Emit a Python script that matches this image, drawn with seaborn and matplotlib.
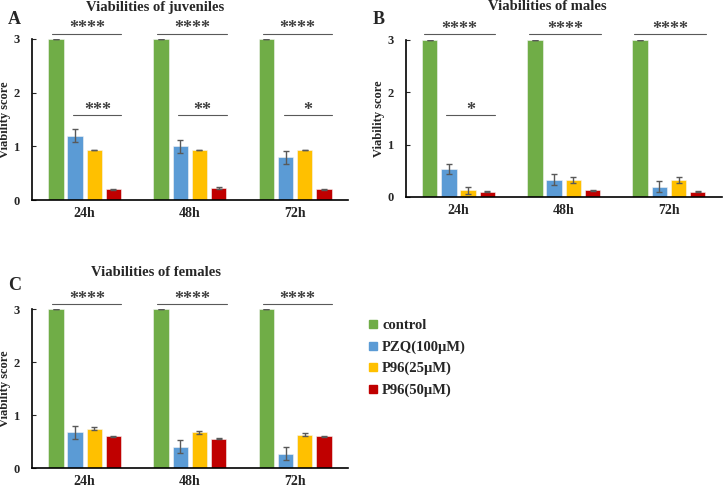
import matplotlib
matplotlib.use("Agg")
import matplotlib.pyplot as plt
from matplotlib.lines import Line2D
import pandas as pd
import seaborn as sns

# data
times = ['24h', '48h', '72h']
groups = ['control', 'PZQ(100μM)', 'P96(25μM)', 'P96(50μM)']
colors = ['#70AD47', '#5B9BD5', '#FFC000', '#C00000']

juv_mean = {'control': [3, 3, 3], 'PZQ(100μM)': [1.2, 1.0, 0.8],
            'P96(25μM)': [0.93, 0.93, 0.93], 'P96(50μM)': [0.2, 0.23, 0.2]}
juv_err = {'control': [0.005, 0.005, 0.005], 'PZQ(100μM)': [0.12, 0.12, 0.12],
           'P96(25μM)': [0.005, 0.005, 0.005], 'P96(50μM)': [0.01, 0.015, 0.01]}

male_mean = {'control': [3, 3, 3], 'PZQ(100μM)': [0.53, 0.33, 0.2],
             'P96(25μM)': [0.13, 0.33, 0.33], 'P96(50μM)': [0.1, 0.13, 0.1]}
male_err = {'control': [0.005, 0.005, 0.005], 'PZQ(100μM)': [0.1, 0.1, 0.1],
            'P96(25μM)': [0.07, 0.06, 0.06], 'P96(50μM)': [0.01, 0.01, 0.01]}

fem_mean = {'control': [3, 3, 3], 'PZQ(100μM)': [0.67, 0.4, 0.27],
            'P96(25μM)': [0.74, 0.67, 0.63], 'P96(50μM)': [0.6, 0.55, 0.6]}
fem_err = {'control': [0.005, 0.005, 0.005], 'PZQ(100μM)': [0.12, 0.12, 0.12],
           'P96(25μM)': [0.03, 0.03, 0.03], 'P96(50μM)': [0.01, 0.01, 0.01]}

# significance marks: (time index, start offset, y, label)
juv_sig = [(0, -0.31, 3.1, '****'), (1, -0.31, 3.1, '****'), (2, -0.31, 3.1, '****'),
           (0, -0.11, 1.58, '***'), (1, -0.11, 1.58, '**'), (2, -0.11, 1.58, '*')]
male_sig = [(0, -0.33, 3.11, '****'), (1, -0.33, 3.11, '****'), (2, -0.33, 3.11, '****'),
            (0, -0.115, 1.56, '*')]
fem_sig = [(0, -0.31, 3.09, '****'), (1, -0.31, 3.09, '****'), (2, -0.31, 3.09, '****')]

sns.set_style("white")
plt.rcParams['font.family'] = ['Liberation Serif', 'DejaVu Serif']
plt.rcParams['font.weight'] = 'bold'

fig = plt.figure(figsize=(7.23, 4.87), dpi=100)
axA = fig.add_axes([0.0443, 0.589, 0.4367, 0.331])
axB = fig.add_axes([0.5615, 0.5955, 0.4365, 0.3225])
axC = fig.add_axes([0.0443, 0.039, 0.4367, 0.3265])


def panel(ax, mean, err, sig):
    rows = []
    for g in groups:
        for i, t in enumerate(times):
            rows.append({'time': t, 'group': g, 'value': mean[g][i], 'err': err[g][i]})
    df = pd.DataFrame(rows)
    sns.barplot(data=df, x='time', y='value', hue='group', hue_order=groups,
                palette=colors, saturation=1, errorbar=None, width=0.73, gap=0.2,
                legend=False, ax=ax, edgecolor='#f4f4f4', linewidth=0.4)
    bars = ax.patches
    k = 0
    for g in groups:
        for i, t in enumerate(times):
            b = bars[k]
            cx = b.get_x() + b.get_width() / 2
            ax.errorbar(cx, mean[g][i], yerr=err[g][i], fmt='none',
                        ecolor='#595959', elinewidth=1, capsize=2.5, capthick=1)
            k += 1
    for ti, x0, y, lab in sig:
        ax.plot([ti + x0, ti + 0.35], [y, y], color='#595959', lw=0.8, clip_on=False)
        ax.text(ti + (x0 + 0.35) / 2, y - 0.07, lab, ha='center', va='bottom',
                fontsize=13, color='#404040', clip_on=False)
    ax.set_xlim(-0.5, 2.5)
    ax.set_ylim(0, 3)
    ax.set_yticks([0, 1, 2, 3])
    ax.set_yticklabels(['0', '1', '2', '3'], fontsize=9, fontweight='bold')
    ax.tick_params(axis='y', direction='in', length=3, width=0.8, left=True, pad=9)
    ax.tick_params(axis='x', length=0, labelsize=10, pad=5)
    for lbl in ax.get_xticklabels():
        lbl.set_fontweight('bold')
    ax.set_xlabel('')
    ax.set_ylabel('Viability score', fontsize=9, fontweight='bold')
    ax.yaxis.set_label_coords(-0.066, 0.5)
    for s in ['top', 'right']:
        ax.spines[s].set_visible(False)
    for s in ['left', 'bottom']:
        ax.spines[s].set_color('black')
        ax.spines[s].set_linewidth(1.2)


panel(axA, juv_mean, juv_err, juv_sig)
panel(axB, male_mean, male_err, male_sig)
panel(axC, fem_mean, fem_err, fem_sig)

fig.text(155 / 723, 1 - 7 / 487, 'Viabilities of juveniles', fontsize=10.5,
         fontweight='bold', ha='center', va='center')
fig.text(547 / 723, 1 - 7 / 487, 'Viabilities of males', fontsize=10.5,
         fontweight='bold', ha='center', va='center')
fig.text(156 / 723, 1 - 273 / 487, 'Viabilities of females', fontsize=10.5,
         fontweight='bold', ha='center', va='center')

fig.text(8 / 723, 1 - 19 / 487, 'A', fontsize=13, fontweight='bold', va='center')
fig.text(373 / 723, 1 - 19 / 487, 'B', fontsize=13, fontweight='bold', va='center')
fig.text(8 / 723, 1 - 286 / 487, 'C', fontsize=13, fontweight='bold', va='center')

handles = [Line2D([0], [0], marker='s', linestyle='', markersize=6,
                  markerfacecolor=c, markeredgecolor=c) for c in colors]
fig.legend(handles, groups, loc='upper left', bbox_to_anchor=(353 / 723, 1 - 306 / 487),
           frameon=False, prop={'size': 10.5, 'weight': 'bold'},
           handletextpad=0.1, labelspacing=0.55, handlelength=1.0)

fig.savefig('out.png', dpi=100)
